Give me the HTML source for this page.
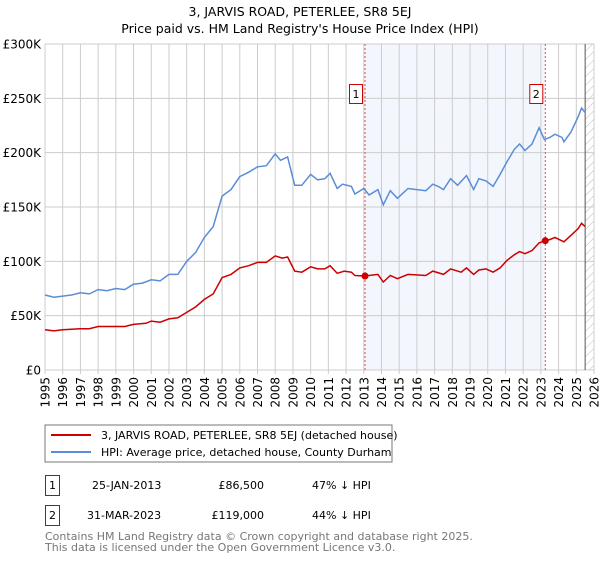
<!DOCTYPE html>
<html><head><meta charset="utf-8"><style>
body{margin:0;background:#fff;font-family:"DejaVu Sans","Liberation Sans",sans-serif;}
svg text{font-family:"DejaVu Sans","Liberation Sans",sans-serif;}
</style></head><body>
<svg id="c" width="600" height="560" xmlns="http://www.w3.org/2000/svg">
<defs><pattern id="hatch" width="6" height="6" patternUnits="userSpaceOnUse" patternTransform="rotate(45)"><line x1="0" y1="0" x2="0" y2="6" stroke="#bbb" stroke-width="1"/></pattern></defs>
<text x="300" y="16" text-anchor="middle" font-size="12.5">3, JARVIS ROAD, PETERLEE, SR8 5EJ</text>
<text x="300" y="33" text-anchor="middle" font-size="12.5">Price paid vs. HM Land Registry's House Price Index (HPI)</text>
<g id="plot"></g>
<rect x="45" y="425" width="347" height="37" fill="#fff" stroke="#777"/>
<line x1="51" y1="435" x2="91" y2="435" stroke="#cc0000" stroke-width="2"/>
<text x="101" y="439" font-size="11">3, JARVIS ROAD, PETERLEE, SR8 5EJ (detached house)</text>
<line x1="51" y1="452" x2="91" y2="452" stroke="#5b8dd6" stroke-width="2"/>
<text x="101" y="456" font-size="11">HPI: Average price, detached house, County Durham</text>
<g font-size="11">
<rect x="45.5" y="475.5" width="14" height="20" fill="none" stroke="#cc0000"/>
<text x="52.5" y="489" text-anchor="middle">1</text>
<text x="92" y="489">25-JAN-2013</text><text x="264" y="489" text-anchor="end">£86,500</text><text x="312" y="489">47% ↓ HPI</text>
<rect x="45.5" y="505.5" width="14" height="20" fill="none" stroke="#cc0000"/>
<text x="52.5" y="519" text-anchor="middle">2</text>
<text x="87" y="519">31-MAR-2023</text><text x="264" y="519" text-anchor="end">£119,000</text><text x="312" y="519">44% ↓ HPI</text>
</g>
<text x="45" y="540" font-size="11" fill="#777">Contains HM Land Registry data © Crown copyright and database right 2025.</text>
<text x="45" y="551" font-size="11" fill="#777">This data is licensed under the Open Government Licence v3.0.</text>
</svg>
<script>
const yearTicks=[1995,1996,1997,1998,1999,2000,2001,2002,2003,2004,2005,2006,2007,2008,2009,2010,2011,2012,2013,2014,2015,2016,2017,2018,2019,2020,2021,2022,2023,2024,2025,2026];
const valueTicks=[0,50,100,150,200,250,300];
const hpiT=[1995,1995.5,1996,1996.5,1997,1997.5,1998,1998.5,1999,1999.5,2000,2000.5,2001,2001.5,2002,2002.5,2003,2003.5,2004,2004.5,2005,2005.5,2006,2006.5,2007,2007.5,2008,2008.3,2008.7,2009.1,2009.5,2010,2010.4,2010.8,2011.1,2011.5,2011.8,2012.3,2012.5,2013,2013.3,2013.8,2014.1,2014.5,2014.9,2015.5,2016,2016.5,2016.9,2017.2,2017.5,2017.9,2018.3,2018.8,2019.2,2019.5,2019.9,2020.3,2020.7,2021.1,2021.5,2021.8,2022.1,2022.5,2022.9,2023.2,2023.5,2023.8,2024.2,2024.3,2024.7,2025.1,2025.3,2025.5];
const hpiV=[69,67,68,69,71,70,74,73,75,74,79,80,83,82,88,88,100,108,122,132,160,166,178,182,187,188,199,193,196,170,170,180,175,176,181,167,171,169,162,167,161,166,152,165,158,167,166,165,171,169,166,176,170,179,166,176,174,169,180,192,203,208,202,208,223,212,214,217,214,210,219,233,241,237];
const ppT=[1995,1995.5,1996,1997,1997.5,1998,1999,1999.5,2000,2000.7,2001,2001.5,2002,2002.5,2003,2003.5,2004,2004.5,2005,2005.5,2006,2006.5,2007,2007.5,2008,2008.4,2008.7,2009.1,2009.5,2010,2010.4,2010.8,2011.1,2011.5,2011.9,2012.3,2012.5,2013.07,2013.8,2014.1,2014.5,2014.9,2015.5,2016.5,2016.9,2017.5,2017.9,2018.5,2018.8,2019.2,2019.5,2019.9,2020.3,2020.7,2021.1,2021.5,2021.8,2022.1,2022.5,2022.9,2023.25,2023.5,2023.8,2024.3,2024.7,2025.1,2025.3,2025.5];
const ppV=[37,36,37,38,38,40,40,40,42,43,45,44,47,48,53,58,65,70,85,88,94,96,99,99,105,103,104,91,90,95,93,93,96,89,91,90,87,86.5,88,81,87,84,88,87,91,88,93,90,94,88,92,93,90,94,101,106,109,107,110,117,119,120,122,118,124,130,135,132];
const saleT=[2013.07,2023.25];
const saleV=[86.5,119];
const saleLabels=["1","2"];
const X0=45,X1=594,Y0=370,Y1=44;
const xs=t=>X0+(t-1995)/(2026-1995)*(X1-X0);
const ys=v=>Y0-v/300*(Y0-Y1);
const NS="http://www.w3.org/2000/svg";
const g=document.getElementById('plot');
function mk(tag,attrs,parent){const e=document.createElementNS(NS,tag);for(const k in attrs)e.setAttribute(k,attrs[k]);(parent||g).appendChild(e);return e;}
let e=mk('rect',{x:X0,y:Y1,width:X1-X0,height:Y0-Y1,fill:'#fff',stroke:'#ccc'});


e=mk('rect',{x:xs(saleT[0]),y:Y1,width:xs(saleT[1])-xs(saleT[0]),height:Y0-Y1,fill:'#eef3fc',opacity:0.7});


e=mk('rect',{x:xs(2025.5),y:Y1,width:X1-xs(2025.5),height:Y0-Y1,fill:'url(#hatch)'});


yearTicks.forEach(y=>{const l=mk('line',{x1:xs(y),x2:xs(y),y1:Y1,y2:Y0+4,stroke:'#ccc'});


const t=mk('text',{x:0,y:0,'font-size':12,'text-anchor':'end',transform:`translate(${xs(y)+4.5},${Y0+7}) rotate(-90)`});t.textContent=y;

});
valueTicks.forEach(v=>{const l=mk('line',{x1:X0,x2:X1,y1:ys(v),y2:ys(v),stroke:'#ccc'});


const t=mk('text',{x:X0-4,y:ys(v)+4.5,'font-size':12,'text-anchor':'end'});t.textContent=v===0?'£0':'£'+v+'K';

});
e=mk('line',{x1:xs(2025.5),x2:xs(2025.5),y1:Y1,y2:Y0,stroke:'#555'});


saleT.forEach((t,i)=>{const l=mk('line',{x1:xs(t),x2:xs(t),y1:Y1,y2:Y0,stroke:'#e05050','stroke-dasharray':'2,2'});

});
const path=(T,V)=>T.map((t,i)=>(i?'L':'M')+xs(t).toFixed(1)+','+ys(V[i]).toFixed(1)).join('');
e=mk('path',{d:path(hpiT,hpiV),fill:'none',stroke:'#5b8dd6','stroke-width':1.5});


e=mk('path',{d:path(ppT,ppV),fill:'none',stroke:'#cc0000','stroke-width':1.5});


saleT.forEach((t,i)=>{const c=mk('circle',{cx:xs(t),cy:ys(saleV[i]),r:3.5,fill:'#cc0000'});


const r=mk('rect',{x:xs(t)-15.5,y:84.5,width:13,height:19,fill:'#fff',stroke:'#cc0000'});


const tx=mk('text',{x:xs(t)-9,y:98,'font-size':11,'text-anchor':'middle'});tx.textContent=saleLabels[i];

});
</script>
</body></html>
